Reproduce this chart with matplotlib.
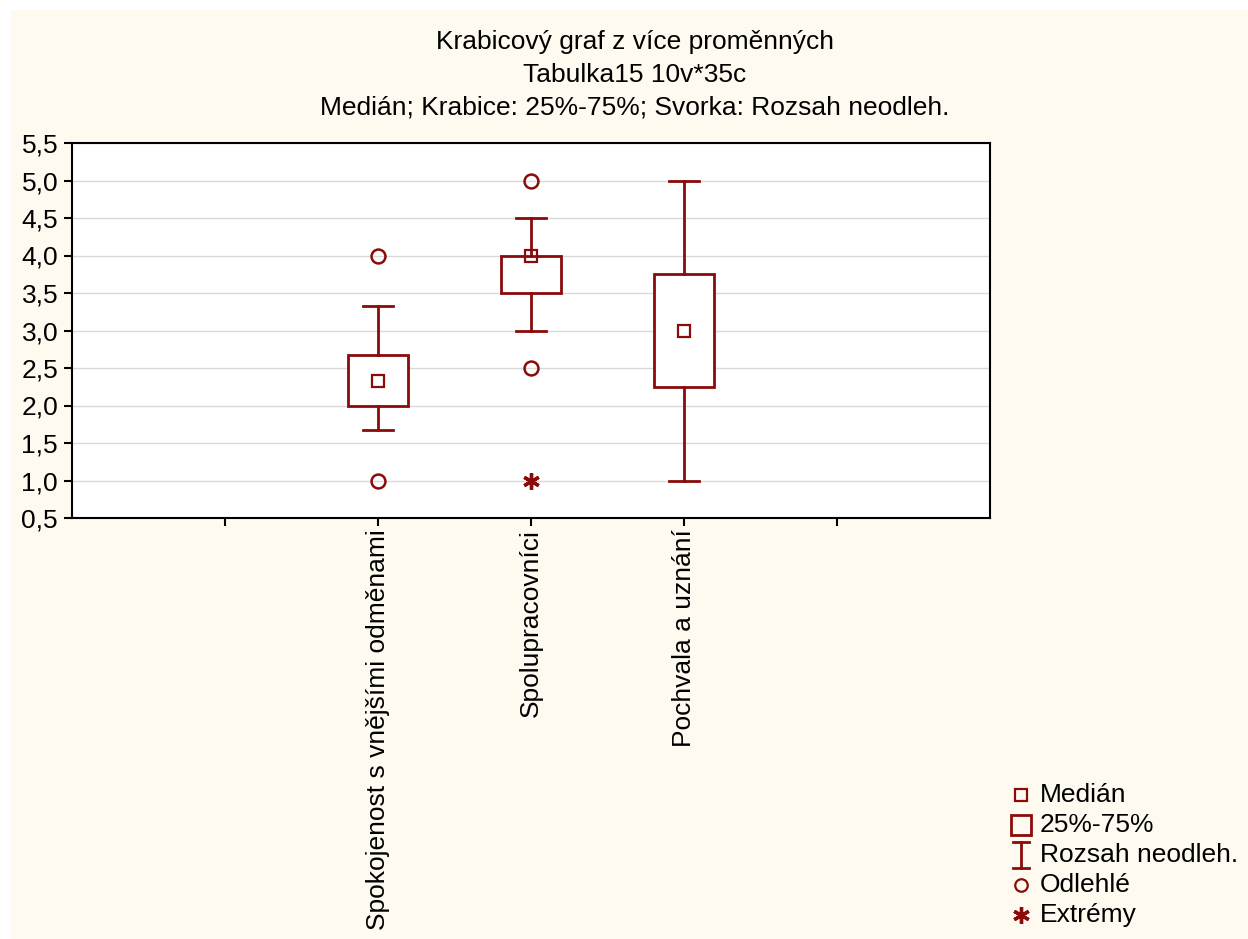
import matplotlib
matplotlib.use('Agg')
import matplotlib.pyplot as plt
from matplotlib.patches import Rectangle
from matplotlib.ticker import FuncFormatter

plt.rcParams['font.family'] = ['Liberation Sans', 'DejaVu Sans']

# data
categories = ['Spokojenost s vnějšími odměnami', 'Spolupracovníci', 'Pochvala a uznání']
positions = [2, 3, 4]
medians = [2.333, 4.0, 3.0]
q1 = [2.0, 3.5, 2.25]
q3 = [2.667, 4.0, 3.75]
whisker_low = [1.667, 3.0, 1.0]
whisker_high = [3.333, 4.5, 5.0]
outliers = [[4.0, 1.0], [5.0, 2.5], []]
extremes = [[], [1.0], []]

y_ticks = [0.5, 1.0, 1.5, 2.0, 2.5, 3.0, 3.5, 4.0, 4.5, 5.0, 5.5]
x_ticks = [1, 2, 3, 4, 5]

title_lines = ['Krabicový graf z více proměnných',
               'Tabulka15 10v*35c',
               'Medián; Krabice: 25%-75%; Svorka: Rozsah neodleh.']
legend_labels = ['Medián', '25%-75%', 'Rozsah neodleh.', 'Odlehlé', 'Extrémy']

RED = '#8B0A0A'
CREAM = '#FFFAF0'
FS = 19
W, H = 1248, 939


def fxy(x, y):
    # pixel position (from top-left) -> figure fraction
    return x / W, 1 - y / H


fig = plt.figure(figsize=(W / 100, H / 100), dpi=100)
fig.patch.set_facecolor('white')
fig.patches.append(Rectangle(fxy(11, H), 1, 1 - 10 / H, transform=fig.transFigure,
                             facecolor=CREAM, edgecolor='none', zorder=-10))

l, t = fxy(72, 143)
r, b = fxy(990, 518)
ax = fig.add_axes([l, b, r - l, t - b])
ax.set_facecolor('white')

stats = []
for i in range(len(categories)):
    stats.append(dict(med=medians[i], q1=q1[i], q3=q3[i],
                      whislo=whisker_low[i], whishi=whisker_high[i], fliers=[]))

ax.bxp(stats, positions=positions, widths=0.39, capwidths=0.2, showfliers=False,
       patch_artist=True, manage_ticks=False,
       boxprops=dict(facecolor='white', edgecolor=RED, linewidth=2),
       whiskerprops=dict(color=RED, linewidth=2),
       capprops=dict(color=RED, linewidth=2),
       medianprops=dict(linewidth=0))

ax.plot(positions, medians, linestyle='none', marker='s', ms=9, mfc='none',
        mec=RED, mew=1.6, zorder=5)
for p, vals in zip(positions, outliers):
    if vals:
        ax.plot([p] * len(vals), vals, linestyle='none', marker='o', ms=10,
                mfc='none', mec=RED, mew=1.8, zorder=5)
for p, vals in zip(positions, extremes):
    if vals:
        ax.plot([p] * len(vals), vals, linestyle='none', marker=(6, 2, 0), ms=12,
                mec=RED, mew=2.4, zorder=5)

ax.set_xlim(0, 6)
ax.set_ylim(0.5, 5.5)
ax.set_yticks(y_ticks)
ax.yaxis.set_major_formatter(FuncFormatter(lambda v, _: f'{v:.1f}'.replace('.', ',')))
ax.set_xticks(x_ticks)
ax.set_xticklabels([''] + categories + [''], rotation=90, va='top', ha='center')
ax.yaxis.grid(True, color='#d9d9d9', linewidth=1)
ax.set_axisbelow(True)
for s in ax.spines.values():
    s.set_linewidth(1.5)
    s.set_color('black')
ax.tick_params(axis='both', direction='out', length=6, width=1.5, color='black',
               labelsize=FS)
ax.tick_params(axis='y', pad=4)
ax.tick_params(axis='x', pad=2)

# title lines
for line, yp in zip(title_lines, [42, 75, 108]):
    x, y = fxy(635, yp)
    fig.text(x, y, line, ha='center', va='center', fontsize=FS)

# legend
gx = 1021
rows = [795, 825, 855, 885, 915]
lax = fig.add_axes([0, 0, 1, 1], facecolor='none')
lax.set_xlim(0, W)
lax.set_ylim(H, 0)
lax.axis('off')
lax.plot([gx], [rows[0]], marker='s', ms=9, mfc='none', mec=RED, mew=1.6)
lax.plot([gx], [rows[1]], marker='s', ms=15, mfc='none', mec=RED, mew=2)
y0 = rows[2]
lax.plot([gx, gx], [y0 - 13, y0 + 13], color=RED, lw=2)
lax.plot([gx - 8, gx + 8], [y0 - 13, y0 - 13], color=RED, lw=2)
lax.plot([gx - 8, gx + 8], [y0 + 13, y0 + 13], color=RED, lw=2)
lax.plot([gx], [rows[3]], marker='o', ms=9, mfc='none', mec=RED, mew=1.6)
lax.plot([gx], [rows[4]], marker=(6, 2, 0), ms=12, mec=RED, mew=2.4)
for lab, yp in zip(legend_labels, rows):
    lax.text(1040, yp, lab, ha='left', va='center', fontsize=FS)

fig.savefig('out.png', dpi=100)
